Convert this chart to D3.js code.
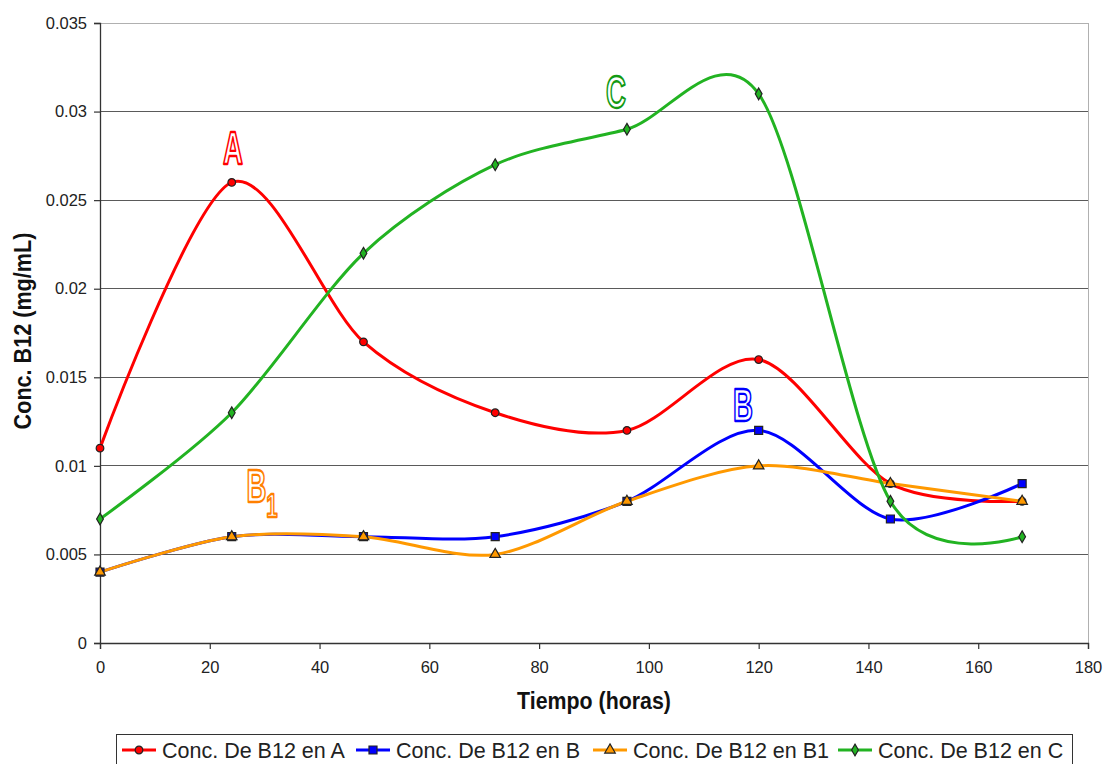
<!DOCTYPE html>
<html>
<head>
<meta charset="utf-8">
<script src="https://cdn.jsdelivr.net/npm/d3@7"></script>
<style>
  html, body { margin: 0; padding: 0; background: #fff; }
  svg { display: block; font-family: Arial, "Liberation Sans", sans-serif; }
</style>
</head>
<body>
<svg id="chart" width="1105" height="764"></svg>
<script>
// Sampling times (hours)
const hours = [0, 24, 48, 72, 96, 120, 144, 168];

// B12 concentration (mg/mL) per culture
const concA  = [0.011, 0.026, 0.017, 0.013, 0.012, 0.016, 0.009, 0.008];
const concB  = [0.004, 0.006, 0.006, 0.006, 0.008, 0.012, 0.007, 0.009];
const concB1 = [0.004, 0.006, 0.006, 0.005, 0.008, 0.010, 0.009, 0.008];
const concC  = [0.007, 0.013, 0.022, 0.027, 0.029, 0.031, 0.008, 0.006];

const seriesNames = ["Conc. De B12 en A", "Conc. De B12 en B", "Conc. De B12 en B1", "Conc. De B12 en C"];

const xTicks = [0, 20, 40, 60, 80, 100, 120, 140, 160, 180];
const yTicks = [0, 0.005, 0.01, 0.015, 0.02, 0.025, 0.03, 0.035];
const yTickLabels = ["0", "0.005", "0.01", "0.015", "0.02", "0.025", "0.03", "0.035"];

const xTitle = "Tiempo (horas)";
const yTitle = "Conc. B12 (mg/mL)";

const series = [
  { name: seriesNames[0], values: concA,  color: "#FF0000", marker: "circle",   tag: "A",  tagX: 233, tagY: 164 },
  { name: seriesNames[1], values: concB,  color: "#0000FF", marker: "square",   tag: "B",  tagX: 743, tagY: 421 },
  { name: seriesNames[2], values: concB1, color: "#FF8000", marker: "triangle", tag: "B", sub: "1", tagX: 256, tagY: 502 },
  { name: seriesNames[3], values: concC,  color: "#139A13", marker: "diamond",  tag: "C",  tagX: 616, tagY: 108 }
];
const lineColors = ["#FF0000", "#0000FF", "#FF9900", "#22B322"];

const svg = d3.select("#chart");
const plot = { left: 100, right: 1088, top: 23, bottom: 643 };

const x = d3.scaleLinear().domain([0, 180]).range([plot.left, plot.right]);
const y = d3.scaleLinear().domain([0, 0.035]).range([plot.bottom, plot.top]);

// Horizontal gridlines
svg.append("g")
  .selectAll("line")
  .data(yTicks.filter(d => d > 0))
  .join("line")
  .attr("x1", plot.left).attr("x2", plot.right)
  .attr("y1", d => y(d)).attr("y2", d => y(d))
  .attr("stroke", d => d === 0.035 ? "#b0b0b0" : "#5a5a5a")
  .attr("stroke-width", 1)
  .attr("shape-rendering", "crispEdges");

// Right border of plot area
svg.append("line")
  .attr("x1", plot.right).attr("x2", plot.right)
  .attr("y1", plot.top).attr("y2", plot.bottom)
  .attr("stroke", "#b0b0b0").attr("stroke-width", 1)
  .attr("shape-rendering", "crispEdges");

// Axes
const yAxis = d3.axisLeft(y).tickValues(yTicks)
  .tickFormat((d, i) => yTickLabels[i]).tickSize(6).tickPadding(7);
const xAxis = d3.axisBottom(x).tickValues(xTicks).tickSize(6).tickPadding(12);

const gy = svg.append("g").attr("transform", `translate(${plot.left},0)`).call(yAxis);
const gx = svg.append("g").attr("transform", `translate(0,${plot.bottom})`).call(xAxis);

[gx, gy].forEach(g => {
  g.select(".domain").attr("stroke", "#333").attr("stroke-width", 1.3);
  g.selectAll(".tick line").attr("stroke", "#333").attr("stroke-width", 1.2);
  g.selectAll(".tick text").attr("fill", "#222").style("font-size", "16.5px")
    .style("font-family", "Arial, 'Liberation Sans', sans-serif");
});

// Axis titles
svg.append("text")
  .attr("transform", `translate(${(plot.left + plot.right) / 2},709) scale(0.89,1)`)
  .attr("text-anchor", "middle")
  .style("font-size", "24px").style("font-weight", "bold").attr("fill", "#111")
  .text(xTitle);

svg.append("text")
  .attr("transform", `translate(31,${(plot.top + plot.bottom) / 2 - 2}) rotate(-90) scale(0.9,1)`)
  .attr("text-anchor", "middle")
  .style("font-size", "24px").style("font-weight", "bold").attr("fill", "#111")
  .text(yTitle);

// Smoothed series lines
const line = d3.line()
  .x((d, i) => x(hours[i]))
  .y(d => y(d))
  .curve(d3.curveCardinal.tension(0.1));

const markerPath = {
  circle:   d3.symbol().type(d3.symbolCircle).size(46),
  square:   d3.symbol().type(d3.symbolSquare).size(64),
  triangle: d3.symbol().type(d3.symbolTriangle).size(48),
  diamond:  d3.symbol().type(d3.symbolDiamond).size(40)
};

series.forEach((s, i) => {
  svg.append("path")
    .datum(s.values)
    .attr("d", line)
    .attr("fill", "none")
    .attr("stroke", lineColors[i])
    .attr("stroke-width", 3)
    .attr("stroke-linejoin", "round");
});

series.forEach((s, i) => {
  svg.append("g")
    .selectAll("path")
    .data(s.values)
    .join("path")
    .attr("transform", (d, j) => `translate(${x(hours[j])},${y(d)})`)
    .attr("d", markerPath[s.marker]())
    .attr("fill", lineColors[i])
    .attr("stroke", "#222")
    .attr("stroke-width", 1.2);
});

// Hollow (outlined) curve tags
function outlinedText(g, txt, xPos, yPos, size, color, anchor) {
  g.append("text")
    .attr("x", xPos).attr("y", yPos)
    .attr("text-anchor", anchor)
    .style("font-size", size + "px")
    .style("font-weight", "bold")
    .attr("fill", "#fff")
    .attr("stroke", color)
    .attr("stroke-width", 2.3)
    .attr("stroke-linejoin", "round")
    .text(txt);
}

series.forEach(s => {
  const g = svg.append("g")
    .attr("transform", `translate(${s.tagX},${s.tagY}) scale(0.6,1)`);
  if (s.sub) {
    outlinedText(g, s.tag, -16, 0, 46, s.color, "start");
    outlinedText(g, s.sub, 17, 15, 34, s.color, "start");
  } else {
    outlinedText(g, s.tag, 0, 0, 46, s.color, "middle");
  }
});

// Legend
const legend = svg.append("g");
legend.append("rect")
  .attr("x", 116.5).attr("y", 734.5)
  .attr("width", 956).attr("height", 40)
  .attr("fill", "#fff").attr("stroke", "#333").attr("stroke-width", 1);

const legendX = [122, 356, 593, 838];
series.forEach((s, i) => {
  const lg = legend.append("g").attr("transform", `translate(${legendX[i]},750)`);
  lg.append("line").attr("x1", 0).attr("x2", 34).attr("y1", 0).attr("y2", 0)
    .attr("stroke", lineColors[i]).attr("stroke-width", 3);
  lg.append("path").attr("transform", "translate(17,0)")
    .attr("d", markerPath[s.marker]())
    .attr("fill", lineColors[i]).attr("stroke", "#222").attr("stroke-width", 1.2);
  lg.append("text").attr("x", 40).attr("y", 7.5)
    .style("font-size", "21.5px").attr("fill", "#222")
    .text(s.name);
});
</script>
</body>
</html>
